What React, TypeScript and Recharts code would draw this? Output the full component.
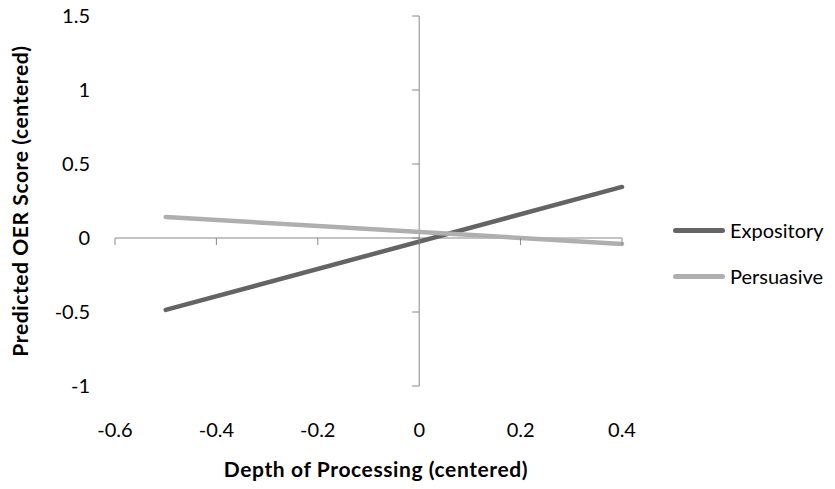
import React from 'react';
import { LineChart, Line, XAxis, YAxis, ReferenceLine, ReferenceDot, Legend } from 'recharts';

const DEPTH = [-0.5, 0.4];
const EXPOSITORY = [-0.486, 0.345];
const PERSUASIVE = [0.142, -0.04];
const X_TICKS = [-0.6, -0.4, -0.2, 0, 0.2, 0.4];
const Y_TICKS = [-1, -0.5, 0, 0.5, 1, 1.5];

const AXIS = '#888888';
const FONT = 'Lato, "Open Sans", sans-serif';

const rows = DEPTH.map((d, i) => ({ depth: d, expository: EXPOSITORY[i], persuasive: PERSUASIVE[i] }));

const xTickMark = (p: any) => (
  <line x1={p.cx} y1={p.cy} x2={p.cx} y2={p.cy + 7} stroke={AXIS} strokeWidth={1} />
);
const yTickMark = (p: any) => (
  <line x1={p.cx - 7} y1={p.cy} x2={p.cx} y2={p.cy} stroke={AXIS} strokeWidth={1} />
);

const LegendBox = (props: any) => (
  <div style={{ fontFamily: FONT, fontSize: 20, color: '#000' }}>
    {props.payload.map((e: any) => (
      <div key={e.value} style={{ display: 'flex', alignItems: 'center', height: 46 }}>
        <div style={{ width: 52, height: 5, borderRadius: 3, background: e.color, marginRight: 5 }} />
        <span>{e.value}</span>
      </div>
    ))}
  </div>
);

export default function App() {
  return (
    <div style={{ position: 'absolute', left: 0, top: 0, background: '#fff' }}>
      <LineChart width={835} height={489} data={rows} margin={{ top: 16, right: 213, bottom: 0, left: 0 }} style={{ fontFamily: FONT }}>
        <XAxis
          type="number"
          dataKey="depth"
          domain={[-0.6, 0.4]}
          ticks={X_TICKS}
          interval={0}
          axisLine={false}
          tickLine={false}
          tickSize={0}
          tickMargin={37}
          height={103}
          tick={{ fill: '#000', fontSize: 20 }}
          label={{
            content: (p: any) => (
              <text x={376} y={p.viewBox.y + 91} textAnchor="middle" fontWeight="bold" fontSize={21} letterSpacing={0.6} fill="#000">
                Depth of Processing (centered)
              </text>
            ),
          }}
        />
        <YAxis
          type="number"
          domain={[-1, 1.5]}
          ticks={Y_TICKS}
          interval={0}
          axisLine={false}
          tickLine={false}
          tickSize={0}
          tickMargin={25}
          width={115}
          tick={{ fill: '#000', fontSize: 20 }}
          label={{
            content: (p: any) => {
              const cy = p.viewBox.y + p.viewBox.height / 2;
              return (
                <text x={28} y={cy} transform={`rotate(-90, 28, ${cy})`} textAnchor="middle" fontWeight="bold" fontSize={21} letterSpacing={0.6} fill="#000">
                  Predicted OER Score (centered)
                </text>
              );
            },
          }}
        />
        <ReferenceLine y={0} stroke={AXIS} strokeWidth={1} />
        <ReferenceLine x={0} stroke={AXIS} strokeWidth={1} />
        {X_TICKS.map((t) => (
          <ReferenceDot key={'x' + t} x={t} y={0} shape={xTickMark} />
        ))}
        {Y_TICKS.map((t) => (
          <ReferenceDot key={'y' + t} x={0} y={t} shape={yTickMark} />
        ))}
        <Legend
          layout="horizontal"
          verticalAlign="middle"
          align="center"
          content={LegendBox}
          wrapperStyle={{ left: 673, top: 207, width: 'auto', height: 'auto' }}
        />
        <Line
          type="linear"
          dataKey="expository"
          name="Expository"
          stroke="#646464"
          strokeWidth={4.5}
          strokeLinecap="round"
          dot={false}
          isAnimationActive={false}
        />
        <Line
          type="linear"
          dataKey="persuasive"
          name="Persuasive"
          stroke="#AFAFAF"
          strokeWidth={4.5}
          strokeLinecap="round"
          dot={false}
          isAnimationActive={false}
        />
      </LineChart>
    </div>
  );
}
